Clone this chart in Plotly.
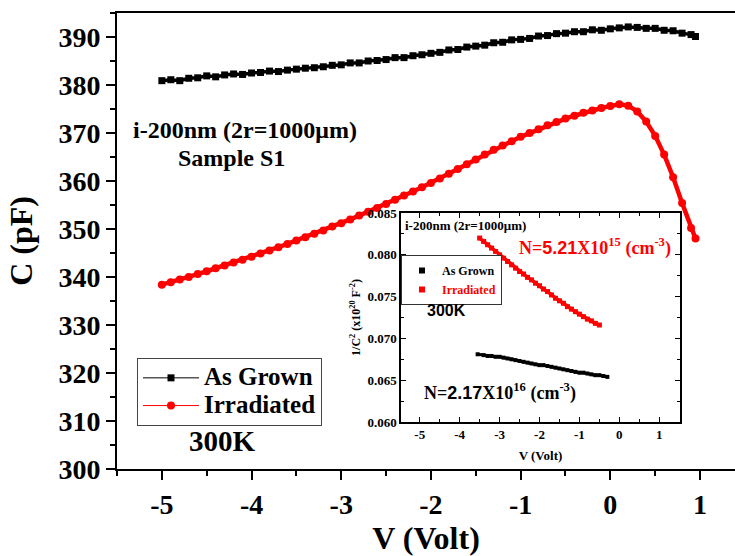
import plotly.graph_objects as go

# ---------------- data ----------------
v_grown = [-5.0, -4.9, -4.8, -4.7, -4.6, -4.5, -4.4, -4.3, -4.2, -4.1, -4.0, -3.9, -3.8, -3.7, -3.6,
           -3.5, -3.4, -3.3, -3.2, -3.1, -3.0, -2.9, -2.8, -2.7, -2.6, -2.5, -2.4, -2.3, -2.2, -2.1,
           -2.0, -1.9, -1.8, -1.7, -1.6, -1.5, -1.4, -1.3, -1.2, -1.1, -1.0, -0.9, -0.8, -0.7, -0.6,
           -0.5, -0.4, -0.3, -0.2, -0.1, 0.0, 0.1, 0.2, 0.3, 0.4, 0.5, 0.6, 0.7, 0.8, 0.9, 0.95]
c_grown = [380.9, 381.1, 380.9, 381.4, 381.5, 381.9, 381.7, 382.1, 382.3, 382.2, 382.5, 382.6, 382.9, 382.8, 383.1,
           383.3, 383.5, 383.6, 383.8, 384.1, 384.2, 384.6, 384.6, 385.0, 385.1, 385.3, 385.7, 385.7, 386.1, 386.3,
           386.6, 386.8, 387.3, 387.4, 387.9, 388.1, 388.3, 388.8, 388.9, 389.4, 389.5, 389.7, 390.2, 390.3, 390.7,
           390.8, 391.1, 391.1, 391.5, 391.4, 391.7, 391.9, 392.1, 392.0, 391.8, 391.8, 391.4, 391.3, 390.8, 390.5, 390.1]

v_irr = [-5.0, -4.9, -4.8, -4.7, -4.6, -4.5, -4.4, -4.3, -4.2, -4.1, -4.0, -3.9, -3.8, -3.7, -3.6,
         -3.5, -3.4, -3.3, -3.2, -3.1, -3.0, -2.9, -2.8, -2.7, -2.6, -2.5, -2.4, -2.3, -2.2, -2.1,
         -2.0, -1.9, -1.8, -1.7, -1.6, -1.5, -1.4, -1.3, -1.2, -1.1, -1.0, -0.9, -0.8, -0.7, -0.6,
         -0.5, -0.4, -0.3, -0.2, -0.1, 0.0, 0.1, 0.2, 0.3, 0.4, 0.5, 0.6, 0.7, 0.8, 0.9, 0.95]
c_irr = [338.4, 338.9, 339.5, 340.0, 340.6, 341.2, 341.8, 342.4, 343.0, 343.6, 344.2, 344.9, 345.5, 346.2, 346.9,
         347.6, 348.3, 349.0, 349.7, 350.5, 351.2, 352.0, 352.8, 353.6, 354.4, 355.2, 356.1, 357.0, 357.8, 358.7,
         359.6, 360.5, 361.5, 362.5, 363.5, 364.5, 365.5, 366.5, 367.4, 368.3, 369.2, 370.0, 370.8, 371.6, 372.3,
         373.0, 373.6, 374.2, 374.7, 375.2, 375.6, 376.0, 375.7, 374.5, 372.4, 369.4, 365.5, 360.8, 355.4, 350.2, 348.0]

# inset: 1/C^2 (x10^20 F^-2)
v_in_irr = [-3.5, -3.4, -3.3, -3.2, -3.1, -3.0, -2.9, -2.8, -2.7, -2.6, -2.5, -2.4, -2.3, -2.2, -2.1, -2.0,
            -1.9, -1.8, -1.7, -1.6, -1.5, -1.4, -1.3, -1.2, -1.1, -1.0, -0.9, -0.8, -0.7, -0.6, -0.5]
y_in_irr = [0.0820, 0.0816, 0.0812, 0.0808, 0.0804, 0.0800, 0.0796, 0.0792, 0.0788, 0.0784, 0.0780, 0.0777,
            0.0773, 0.0770, 0.0766, 0.0763, 0.0759, 0.0756, 0.0752, 0.0748, 0.0745, 0.0742, 0.0738, 0.0735,
            0.0732, 0.0729, 0.0726, 0.0723, 0.0721, 0.0718, 0.0716]
v_in_grown = [-3.55, -3.4, -3.3, -3.2, -3.1, -3.0, -2.9, -2.8, -2.7, -2.6, -2.5, -2.4, -2.3, -2.2, -2.1, -2.0,
              -1.9, -1.8, -1.7, -1.6, -1.5, -1.4, -1.3, -1.2, -1.1, -1.0, -0.9, -0.8, -0.7, -0.6, -0.5, -0.4, -0.3]
y_in_grown = [0.0681, 0.0680, 0.0679, 0.0679, 0.0678, 0.0678, 0.0677, 0.0676, 0.0675, 0.0674, 0.0673, 0.0672,
              0.0671, 0.0670, 0.0669, 0.0668, 0.0668, 0.0667, 0.0666, 0.0665, 0.0664, 0.0663, 0.0662, 0.0661,
              0.0660, 0.0659, 0.0659, 0.0658, 0.0657, 0.0656, 0.0656, 0.0655, 0.0654]

main_xticks = [-5, -4, -3, -2, -1, 0, 1]
main_xticktext = ["-5", "-4", "-3", "-2", "-1", "0", "1"]
main_yticks = [300, 310, 320, 330, 340, 350, 360, 370, 380, 390]
inset_xticks = [-5, -4, -3, -2, -1, 0, 1]
inset_xticktext = ["-5", "-4", "-3", "-2", "-1", "0", "1"]
inset_yticks = [0.060, 0.065, 0.070, 0.075, 0.080, 0.085]

# ---------------- layout helpers ----------------
W, H = 735, 556
L, R, T, B = 117, 735, 13, 469
SERIF = "Liberation Serif"
SANS = "Liberation Sans"


def px(x):
    return (x - L) / (R - L)


def py(y):
    return (B - y) / (B - T)


def big(txt, size):
    return "<span style='font-size:%dpx'>%s</span>" % (size, txt)


fig = go.Figure()

# main data
fig.add_trace(go.Scatter(x=v_grown, y=c_grown, mode="lines+markers", showlegend=False,
                         line=dict(color="black", width=3.5),
                         marker=dict(symbol="square", size=7, color="black"),
                         xaxis="x", yaxis="y"))
fig.add_trace(go.Scatter(x=v_irr, y=c_irr, mode="lines+markers", showlegend=False,
                         line=dict(color="red", width=4.5),
                         marker=dict(symbol="circle", size=8, color="red"),
                         xaxis="x", yaxis="y"))
# main legend entries
fig.add_trace(go.Scatter(x=[None], y=[None], mode="lines+markers", name=big("As Grown", 25),
                         line=dict(color="black", width=1),
                         marker=dict(symbol="square", size=7, color="black"), xaxis="x", yaxis="y"))
fig.add_trace(go.Scatter(x=[None], y=[None], mode="lines+markers", name=big("Irradiated", 25),
                         line=dict(color="red", width=1),
                         marker=dict(symbol="circle", size=8, color="red"), xaxis="x", yaxis="y"))

# inset traces
fig.add_trace(go.Scatter(x=v_in_grown, y=y_in_grown, mode="lines+markers", showlegend=False,
                         line=dict(color="black", width=3),
                         marker=dict(symbol="square", size=4, color="black"),
                         xaxis="x2", yaxis="y2"))
fig.add_trace(go.Scatter(x=v_in_irr, y=y_in_irr, mode="lines+markers", showlegend=False,
                         line=dict(color="red", width=3.5),
                         marker=dict(symbol="square", size=5, color="red"),
                         xaxis="x2", yaxis="y2"))
# inset legend entries
fig.add_trace(go.Scatter(x=[None], y=[None], mode="markers", name="As Grown", legend="legend2",
                         marker=dict(symbol="square", size=6, color="black"), xaxis="x2", yaxis="y2"))
fig.add_trace(go.Scatter(x=[None], y=[None], mode="markers",
                         name="<span style='color:red'>Irradiated</span>", legend="legend2",
                         marker=dict(symbol="square", size=6, color="red"), xaxis="x2", yaxis="y2"))

tickfont_main = dict(family=SERIF, size=28, color="black", weight="bold")
tickfont_in = dict(family=SERIF, size=13, color="black", weight="bold")

fig.update_layout(
    width=W, height=H, autosize=False,
    margin=dict(l=L, r=W - R, t=T, b=H - B, pad=0),
    paper_bgcolor="white", plot_bgcolor="white",
    showlegend=True,
    xaxis=dict(domain=[0, 1], range=[-5.5, 1.39], tickvals=main_xticks, ticktext=main_xticktext,
               automargin=False,
               ticks="outside", ticklen=9, tickwidth=2, tickcolor="black",
               minor=dict(dtick=0.5, tick0=0, ticks="outside", ticklen=5, tickwidth=2, tickcolor="black"),
               showline=True, linecolor="black", linewidth=2, mirror=True,
               showgrid=False, zeroline=False, tickfont=tickfont_main,
               title=dict(text="V (Volt)", font=dict(family=SERIF, size=32, color="black", weight="bold"),
                          standoff=6)),
    yaxis=dict(domain=[0, 1], range=[300, 395], tickvals=main_yticks, automargin=False,
               ticks="outside", ticklen=9, tickwidth=2, tickcolor="black",
               minor=dict(dtick=5, tick0=0, ticks="outside", ticklen=5, tickwidth=2, tickcolor="black"),
               showline=True, linecolor="black", linewidth=2, mirror=False,
               showgrid=False, zeroline=False, tickfont=tickfont_main,
               title=dict(text="C (pF)", font=dict(family=SERIF, size=32, color="black", weight="bold"),
                          standoff=16)),
    xaxis3=dict(overlaying="x", matches="x", side="top", showticklabels=False, tickvals=main_xticks,
                automargin=False,
                ticks="inside", ticklen=6, tickwidth=1.5, tickcolor="black",
                minor=dict(dtick=0.5, tick0=0, ticks="inside", ticklen=4, tickwidth=1.5, tickcolor="black"),
                showline=False, showgrid=False, zeroline=False),
    xaxis2=dict(domain=[px(401), px(680)], anchor="y2", range=[-5.47, 1.52],
                tickvals=inset_xticks, ticktext=inset_xticktext, automargin=False,
                ticks="inside", ticklen=5, tickwidth=1, tickcolor="black",
                minor=dict(dtick=0.5, tick0=0, ticks="inside", ticklen=3, tickwidth=1, tickcolor="black"),
                showline=True, linecolor="black", linewidth=1.5, mirror="ticks",
                showgrid=False, zeroline=False, tickfont=tickfont_in,
                title=dict(text="V (Volt)", font=dict(family=SERIF, size=13, color="black", weight="bold"),
                           standoff=10)),
    yaxis2=dict(domain=[py(422), py(213)], anchor="x2", range=[0.060, 0.085],
                tickvals=inset_yticks, tickformat=".3f", automargin=False,
                ticks="inside", ticklen=5, tickwidth=1, tickcolor="black",
                minor=dict(dtick=0.0025, tick0=0, ticks="inside", ticklen=3, tickwidth=1, tickcolor="black"),
                showline=True, linecolor="black", linewidth=1.5, mirror="ticks",
                showgrid=False, zeroline=False, tickfont=tickfont_in,
                title=dict(text="1/C<sup>2</sup> (x10<sup>20</sup> F<sup>-2</sup>)",
                           font=dict(family=SERIF, size=12, color="black", weight="bold"), standoff=4)),
    legend=dict(x=px(137), y=py(358), xanchor="left", yanchor="top",
                bgcolor="white", bordercolor="#444", borderwidth=1,
                font=dict(family=SERIF, size=19, color="black", weight="bold"),
                tracegroupgap=0, itemwidth=56),
    legend2=dict(x=px(401), y=py(255), xanchor="left", yanchor="top",
                 bgcolor="white", bordercolor="#333", borderwidth=1,
                 font=dict(family=SERIF, size=12, color="black", weight="bold"),
                 tracegroupgap=0, itemwidth=30),
)

ann = [
    dict(text="i-200nm (2r=1000\u03bcm)", x=px(245), y=py(130), size=24, color="black", family=SERIF,
         xanchor="center"),
    dict(text="Sample S1", x=px(231), y=py(158), size=24, color="black", family=SERIF, xanchor="center"),
    dict(text="300K", x=px(222), y=py(441), size=29, color="black", family=SERIF, xanchor="center"),
    dict(text="i-200nm (2r=1000\u03bcm)", x=px(403), y=py(226), size=13, color="black", family=SERIF,
         xanchor="left"),
    dict(text="N=<span style='font-family:Liberation Sans'>5.21</span>X10<sup>15</sup> (cm<sup>-3</sup>)",
         x=px(595), y=py(247), size=18, color="red", family=SERIF, xanchor="center"),
    dict(text="N=<span style='font-family:Liberation Sans'>2.17</span>X10<sup>16</sup> (cm<sup>-3</sup>)",
         x=px(500), y=py(392), size=18, color="black", family=SERIF, xanchor="center"),
    dict(text="300K", x=px(425), y=py(310), size=16, color="black", family=SANS, xanchor="left"),
]
for a in ann:
    fig.add_annotation(text=a["text"], x=a["x"], y=a["y"], xref="paper", yref="paper",
                       xanchor=a["xanchor"], yanchor="middle", showarrow=False,
                       font=dict(family=a["family"], size=a["size"], color=a["color"], weight="bold"))

fig.write_html("out.html", config={"displayModeBar": False},
               post_script="document.body.style.margin='0px';document.body.style.overflow='hidden';")
